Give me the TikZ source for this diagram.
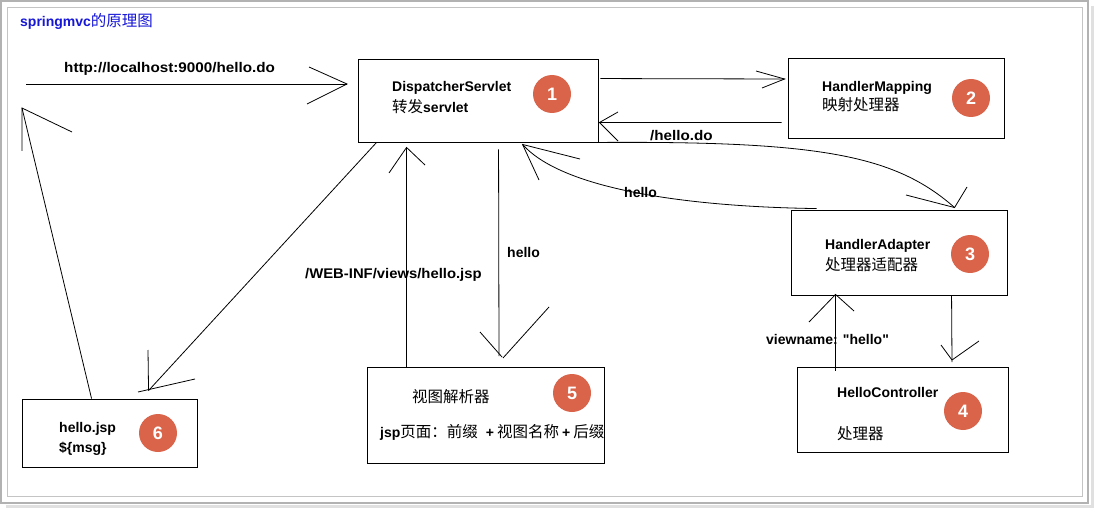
\documentclass[tikz,border=0pt]{standalone}
\usepackage{fontspec}
\setmainfont{Liberation Sans}
\newfontfamily\rawsans{Liberation Sans}
\newfontfamily\cjk{Noto Sans CJK SC}
\usetikzlibrary{calc}
\definecolor{badgecol}{RGB}{217,100,74}
\definecolor{ttlcol}{RGB}{22,22,215}
\definecolor{frameout}{RGB}{178,178,178}
\definecolor{framein}{RGB}{196,196,196}
\begin{document}
\begin{tikzpicture}[x=1pt,y=-1pt,
  ln/.style={line width=0.8pt},
  box/.style={draw, line width=0.9pt, inner sep=0pt},
  lbl/.style={font=\fontsize{14}{16}\selectfont\bfseries, inner sep=0pt, anchor=base west},
  zh/.style={font=\fontsize{15.5}{17}\selectfont\cjk, inner sep=0pt, anchor=base west},
  badge/.style={circle, fill=badgecol, minimum size=38pt, inner sep=0pt, text=white, font=\fontsize{18}{18}\selectfont\bfseries}]
\useasboundingbox (0,0) rectangle (1095,508);
% frame
\fill[white] (0,0) rectangle (1095,508);
\draw[black!12, line width=3pt] (1092,6) -- (1092,506) -- (6,506);
\draw[frameout, line width=1.1pt] (1,1) rectangle (1088,503);
\draw[framein, line width=1pt] (7,8) rectangle (1082,496);
% title
\node[inner sep=0pt, anchor=base west, text=ttlcol] (title) at (20,27)
  {{\fontsize{14}{16}\selectfont\bfseries springmvc}{\fontsize{15.5}{17}\selectfont\cjk 的原理图}};
% boxes
\node[box, minimum width=240pt, minimum height=83pt] (ds) at (478,100.5) {};
\node[box, minimum width=216pt, minimum height=80pt] (hm) at (896,98) {};
\node[box, minimum width=216pt, minimum height=85pt] (ha) at (899,252.5) {};
\node[box, minimum width=211pt, minimum height=85pt] (hc) at (902.5,409.5) {};
\node[box, minimum width=237pt, minimum height=96pt] (vr) at (485.5,415) {};
\node[box, minimum width=175pt, minimum height=68pt] (jsp) at (109.5,433) {};
% box texts
\node[lbl] (dst1) at (392,92) {DispatcherServlet};
\node[inner sep=0pt, anchor=base west] (dst2) at (392,113) {{\fontsize{15.5}{17}\selectfont\cjk 转发}{\fontsize{14}{16}\selectfont\bfseries servlet}};
\node[lbl] (hmt1) at (822,92) {HandlerMapping};
\node[zh] (hmt2) at (822,111) {映射处理器};
\node[lbl] (hat1) at (825,249) {HandlerAdapter};
\node[zh] (hat2) at (825,270) {处理器适配器};
\node[lbl] (hct1) at (837,397) {HelloController};
\node[zh] (hct2) at (837,439) {处理器};
\node[zh] (vrt1) at (412,402) {视图解析器};
\node[inner sep=0pt, anchor=base west] (vrt2) at (380,437)
  {{\fontsize{14}{16}\selectfont\bfseries jsp}{\fontsize{15.5}{17}\selectfont\cjk 页面：前缀}\hspace{8pt}{\fontsize{14}{16}\selectfont\bfseries +}\hspace{3pt}{\fontsize{15.5}{17}\selectfont\cjk 视图名称}\hspace{3pt}{\fontsize{14}{16}\selectfont\bfseries +}\hspace{3pt}{\fontsize{15.5}{17}\selectfont\cjk 后缀}};
\node[lbl] (jspt1) at (59,432) {hello.jsp};
\node[lbl] (jspt2) at (59,452) {\$\{msg\}};
% badges
\node[badge] (b1) at (552,94) {1};
\node[badge] (b2) at (971,98) {2};
\node[badge] (b3) at (970,254) {3};
\node[badge] (b4) at (963,411) {4};
\node[badge] (b5) at (572,393) {5};
\node[badge] (b6) at (158,433) {6};
% coordinates
\coordinate (client) at (26,84);
\coordinate (t1) at (347,84);
\coordinate (t2s) at ($(ds.north east)+(2,20)$);
\coordinate (t2) at ($(hm.west)+(-3,-19)$);
\coordinate (t3s) at ($(hm.south west)+(-6,-16)$);
\coordinate (t3) at ($(ds.east)+(1,22)$);
\coordinate (t4) at ($(ha.north west)+(164,-2)$);
\coordinate (t5s) at ($(ha.north west)+(26,-1)$);
\coordinate (t5) at ($(ds.south west)+(165,2)$);
\coordinate (t6s) at ($(ds.south west)+(19,0)$);
\coordinate (t6) at ($(jsp.north west)+(127,-8)$);
\coordinate (t7s) at ($(vr.north west)+(40,0)$);
\coordinate (t7) at ($(ds.south west)+(49,5)$);
\coordinate (t8s) at ($(ds.south west)+(141,7)$);
\coordinate (t8) at (499,356);
\coordinate (t9s) at ($(ha.south west)+(161,0)$);
\coordinate (t9) at (952,362);
\coordinate (t10s) at ($(hc.north west)+(39,4)$);
\coordinate (t10) at ($(ha.south west)+(45,-1)$);
\coordinate (t11s) at ($(jsp.north west)+(70,0)$);
\coordinate (t11) at (22,108);
% 1: client -> DispatcherServlet
\draw[ln] (client) -- (t1);
\draw[ln] (309,67) -- (t1) -- (307,104);
\node[lbl] (l1) at (64,73) {\scalebox{1.088}[1]{http://localhost:9000/hello.do}};
% 2: DS -> HM
\draw[ln] (t2s) -- (t2);
\draw[ln] (756,71) -- (t2) -- (762,88);
% 3: HM -> DS
\draw[ln] (t3s) -- (t3);
\draw[ln] (618,112) -- (t3) -- (618,141);
\node[lbl] (l3) at (650,141) {\scalebox{1.086}[1]{/hello.do}};
% 4: DS -> HA (curve)
\draw[ln] (ds.south east) .. controls (820,141) and (895,155) .. (t4);
\draw[ln] (906,195) -- (t4) -- (967,187);
% 5: HA -> DS (curve)
\draw[ln] (t5s) .. controls (700,207) and (565,192) .. (t5);
\draw[ln] (580,159) -- (t5) -- (539,180);
\node[lbl] (l5) at (624,197) {hello};
% 6: DS -> hello.jsp
\draw[ln] (t6s) -- (t6);
\draw[ln] (148,350) -- (t6);
\draw[ln] (195,379) -- (138,392);
% 7: VR -> DS
\draw[ln] (t7s) -- (t7);
\draw[ln] (389,173) -- (t7) -- (425,165);
\node[lbl] (l7) at (305,278) {\scalebox{1.06}[1]{/WEB-INF/views/hello.jsp}};
% 8: DS -> VR
\draw[ln] (t8s) -- (t8);
\draw[ln] (480,332) -- (502,357);
\draw[ln] (503,358) -- (549,307);
\node[lbl] (l8) at (507,257) {hello};
% 9: HA -> HC
\draw[ln] (t9s) -- (t9);
\draw[ln] (941,345) -- (952,360) -- (979,341);
% 10: HC -> HA
\draw[ln] (t10s) -- (t10);
\draw[ln] (809,322) -- (t10) -- (854,311);
\node[lbl] (l10) at (766,344) {viewname: {\rawsans\bfseries "hello"}};
% 11: hello.jsp -> client
\draw[ln] (t11s) -- (t11);
\draw[ln] (22,151) -- (t11) -- (72,132);
\end{tikzpicture}
\end{document}
